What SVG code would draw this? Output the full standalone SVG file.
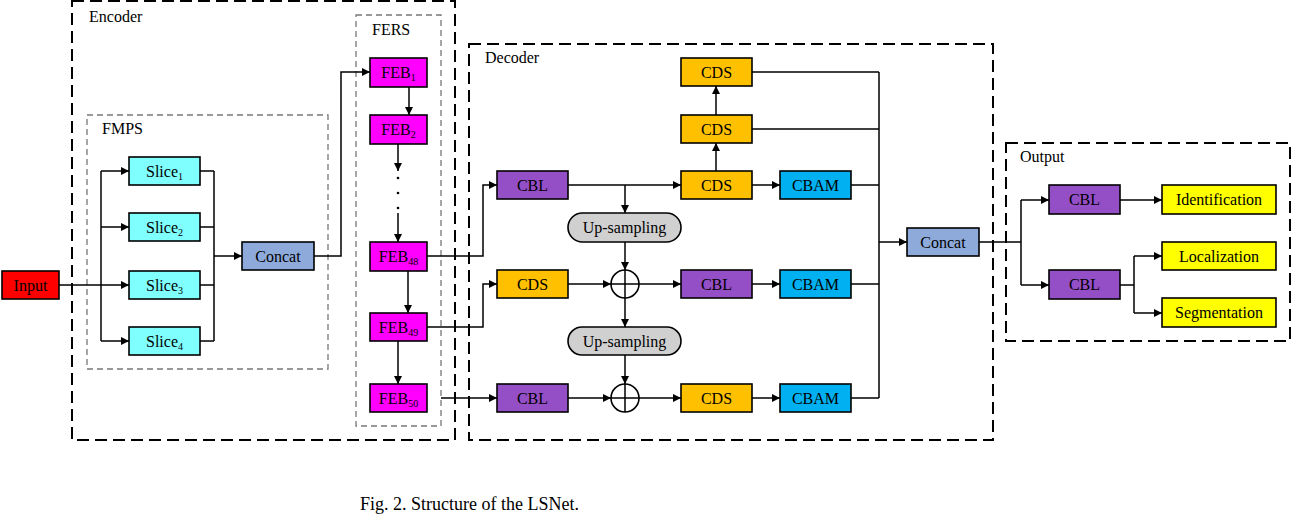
<svg xmlns="http://www.w3.org/2000/svg" width="1292" height="524" viewBox="0 0 1292 524">
<style>
text{font-family:"Liberation Serif","Times New Roman",serif;font-size:16px;fill:#000}
.lbl{text-anchor:start}
.n{text-anchor:middle}
.box{stroke:#000;stroke-width:1.6}
.grp{fill:none;stroke:#000;stroke-width:2;stroke-dasharray:12 6}
.sub{fill:none;stroke:#777;stroke-width:1.3;stroke-dasharray:6 4}
.c{fill:none;stroke:#000;stroke-width:1.5}
.a{fill:none;stroke:#000;stroke-width:1.5;marker-end:url(#ah)}
.s{font-size:10px}
.red{fill:#ff0000}.cy{fill:#80ffff}.cc{fill:#8eaadb}.mg{fill:#ff00ff}.pu{fill:#954fc6}.or{fill:#ffc000}.bl{fill:#00b0f0}.gr{fill:#d0d0d0}.ye{fill:#ffff00}
</style>
<defs>
<marker id="ah" viewBox="0 0 10 10" refX="10" refY="5" markerUnits="userSpaceOnUse" markerWidth="8" markerHeight="10" orient="auto">
<path d="M0,0 L10,5 L0,10 z" fill="#000"/>
</marker>
</defs>
<rect width="1292" height="524" fill="#fff"/>

<g id="groups">
<rect class="grp" x="72" y="1" width="383" height="439"/>
<text class="lbl" x="89" y="22">Encoder</text>
<rect class="sub" x="356" y="15" width="85" height="411"/>
<text class="lbl" x="372" y="35">FERS</text>
<rect class="sub" x="87" y="115" width="241" height="254"/>
<text class="lbl" x="102" y="134">FMPS</text>
<rect class="grp" x="469" y="44" width="524" height="396"/>
<text class="lbl" x="485" y="63">Decoder</text>
<rect class="grp" x="1006" y="143" width="284" height="198"/>
<text class="lbl" x="1020" y="162">Output</text>
</g>

<g id="connectors">
<!-- encoder -->
<path class="a" d="M59,285 H129"/>
<path class="c" d="M101,171 V341"/>
<path class="a" d="M101,171 H129"/>
<path class="a" d="M101,227 H129"/>
<path class="a" d="M101,341 H129"/>
<path class="c" d="M200,171 H214 M200,227 H214 M200,285 H214 M200,341 H214 M214,171 V341"/>
<path class="a" d="M214,256 H242"/>
<path class="a" d="M314,256 H341 V72 H370"/>
<path class="a" d="M409,87 V115"/>
<path class="a" d="M398,144 V171"/>
<circle cx="398" cy="178" r="1.3" fill="#000"/>
<circle cx="398" cy="193" r="1.3" fill="#000"/>
<circle cx="398" cy="208" r="1.3" fill="#000"/>
<path class="a" d="M398,213 V242"/>
<path class="a" d="M408,271 V313"/>
<path class="a" d="M398,341 V384"/>
<path class="a" d="M427,256 H483 V185 H497"/>
<path class="a" d="M427,327 H483 V284 H497"/>
<path class="a" d="M441,398 H497"/>
<!-- decoder -->
<path class="a" d="M568,185 H681"/>
<path class="a" d="M625,185 V213"/>
<path class="a" d="M625,242 V270"/>
<path class="a" d="M568,284 H611"/>
<path class="a" d="M639,284 H681"/>
<path class="a" d="M752,284 H780"/>
<path class="a" d="M625,298 V327"/>
<path class="a" d="M625,355 V384"/>
<path class="a" d="M568,398 H611"/>
<path class="a" d="M639,398 H681"/>
<path class="a" d="M752,398 H780"/>
<path class="a" d="M752,185 H780"/>
<path class="a" d="M716,171 V143"/>
<path class="a" d="M716,115 V86"/>
<path class="c" d="M752,72 H879 M752,129 H879 M851,185 H879 M851,284 H879 M851,398 H879 M879,72 V398"/>
<path class="a" d="M879,242 H907"/>
<!-- output -->
<path class="c" d="M979,242 H1021 M1021,200 V285"/>
<path class="a" d="M1021,200 H1049"/>
<path class="a" d="M1021,285 H1049"/>
<path class="a" d="M1120,200 H1162"/>
<path class="c" d="M1120,285 H1134 M1134,256 V313"/>
<path class="a" d="M1134,256 H1162"/>
<path class="a" d="M1134,313 H1162"/>
</g>

<g id="input"><rect class="box red" x="2" y="271" width="57" height="28"/><text class="n" x="30.5" y="290.5">Input</text></g>
<g id="slice1"><rect class="box cy" x="129" y="157" width="71" height="28"/><text class="n" x="164.5" y="176.5">Slice<tspan class="s" dy="3">1</tspan></text></g>
<g id="slice2"><rect class="box cy" x="129" y="213" width="71" height="28"/><text class="n" x="164.5" y="232.5">Slice<tspan class="s" dy="3">2</tspan></text></g>
<g id="slice3"><rect class="box cy" x="129" y="271" width="71" height="28"/><text class="n" x="164.5" y="290.5">Slice<tspan class="s" dy="3">3</tspan></text></g>
<g id="slice4"><rect class="box cy" x="129" y="327" width="71" height="28"/><text class="n" x="164.5" y="346.5">Slice<tspan class="s" dy="3">4</tspan></text></g>
<g id="concat1"><rect class="box cc" x="242" y="242" width="72" height="28"/><text class="n" x="278" y="261.5">Concat</text></g>

<g id="feb1"><rect class="box mg" x="370" y="58" width="57" height="29"/><text class="n" x="398.5" y="78">FEB<tspan class="s" dy="3">1</tspan></text></g>
<g id="feb2"><rect class="box mg" x="370" y="115" width="57" height="29"/><text class="n" x="398.5" y="135">FEB<tspan class="s" dy="3">2</tspan></text></g>
<g id="feb48"><rect class="box mg" x="370" y="242" width="57" height="29"/><text class="n" x="398.5" y="262">FEB<tspan class="s" dy="3">48</tspan></text></g>
<g id="feb49"><rect class="box mg" x="370" y="313" width="57" height="28"/><text class="n" x="398.5" y="332.5">FEB<tspan class="s" dy="3">49</tspan></text></g>
<g id="feb50"><rect class="box mg" x="370" y="384" width="57" height="28"/><text class="n" x="398.5" y="403.5">FEB<tspan class="s" dy="3">50</tspan></text></g>

<g id="cbl_top"><rect class="box pu" x="497" y="171" width="71" height="28"/><text class="n" x="532.5" y="190.5">CBL</text></g>
<g id="cds_mid_left"><rect class="box or" x="497" y="270" width="71" height="28"/><text class="n" x="532.5" y="289.5">CDS</text></g>
<g id="cbl_bot"><rect class="box pu" x="497" y="384" width="71" height="28"/><text class="n" x="532.5" y="403.5">CBL</text></g>
<g id="upsample1"><rect class="box gr" x="568" y="213" width="113" height="29" rx="14.5"/><text class="n" x="624.5" y="233">Up-sampling</text></g>
<g id="upsample2"><rect class="box gr" x="568" y="327" width="113" height="28" rx="14"/><text class="n" x="624.5" y="346.5">Up-sampling</text></g>
<g id="add1"><circle cx="625" cy="284" r="14" fill="#fff" stroke="#000" stroke-width="1.6"/><path d="M611,284 H639 M625,270 V298" stroke="#000" stroke-width="1.5"/></g>
<g id="add2"><circle cx="625" cy="398" r="14" fill="#fff" stroke="#000" stroke-width="1.6"/><path d="M611,398 H639 M625,384 V412" stroke="#000" stroke-width="1.5"/></g>
<g id="cds1"><rect class="box or" x="681" y="58" width="71" height="28"/><text class="n" x="716.5" y="77.5">CDS</text></g>
<g id="cds2"><rect class="box or" x="681" y="115" width="71" height="28"/><text class="n" x="716.5" y="134.5">CDS</text></g>
<g id="cds3"><rect class="box or" x="681" y="171" width="71" height="28"/><text class="n" x="716.5" y="190.5">CDS</text></g>
<g id="cbl_mid"><rect class="box pu" x="681" y="270" width="71" height="28"/><text class="n" x="716.5" y="289.5">CBL</text></g>
<g id="cds_bot"><rect class="box or" x="681" y="384" width="71" height="28"/><text class="n" x="716.5" y="403.5">CDS</text></g>
<g id="cbam1"><rect class="box bl" x="780" y="171" width="71" height="28"/><text class="n" x="815.5" y="190.5">CBAM</text></g>
<g id="cbam2"><rect class="box bl" x="780" y="270" width="71" height="28"/><text class="n" x="815.5" y="289.5">CBAM</text></g>
<g id="cbam3"><rect class="box bl" x="780" y="384" width="71" height="28"/><text class="n" x="815.5" y="403.5">CBAM</text></g>
<g id="concat2"><rect class="box cc" x="907" y="228" width="72" height="28"/><text class="n" x="943" y="247.5">Concat</text></g>

<g id="cbl_out1"><rect class="box pu" x="1049" y="185" width="71" height="29"/><text class="n" x="1084.5" y="205">CBL</text></g>
<g id="cbl_out2"><rect class="box pu" x="1049" y="270" width="71" height="29"/><text class="n" x="1084.5" y="290">CBL</text></g>
<g id="identification"><rect class="box ye" x="1162" y="185" width="114" height="29"/><text class="n" x="1219" y="205">Identification</text></g>
<g id="localization"><rect class="box ye" x="1162" y="242" width="114" height="28"/><text class="n" x="1219" y="261.5">Localization</text></g>
<g id="segmentation"><rect class="box ye" x="1162" y="298" width="114" height="29"/><text class="n" x="1219" y="318">Segmentation</text></g>

<text x="360" y="510" style="font-size:18px">Fig. 2. Structure of the LSNet.</text>
</svg>
